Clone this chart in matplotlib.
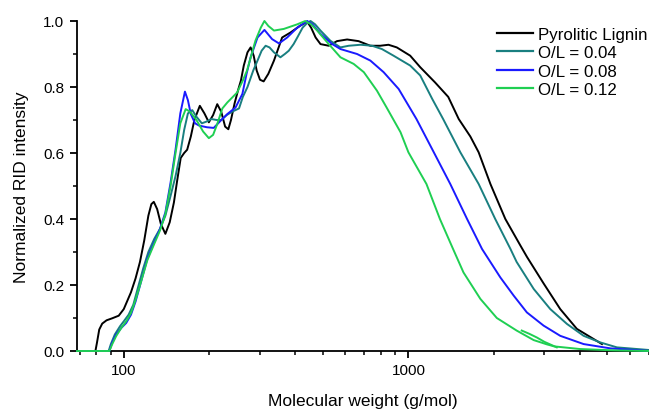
import matplotlib
matplotlib.use("Agg")
import matplotlib.pyplot as plt
from matplotlib.ticker import LogLocator, MultipleLocator, FixedLocator, NullFormatter

plt.rcParams['font.family'] = ['Liberation Sans', 'DejaVu Sans']

# ---- data ----
black_mw = [79.5, 80.5, 82, 84, 87, 91, 96, 100, 106, 110, 114, 118, 122, 125, 127.5, 131, 135, 140, 145, 150,
            154, 158.5, 163, 167, 172, 177, 185, 192, 199, 206, 213, 220, 227, 233, 238, 245, 252, 258, 264, 272,
            279, 286, 293, 301, 310, 322, 337, 350, 360, 385, 417, 441, 455, 472, 491, 525, 561, 609, 668, 735,
            796, 851, 910, 1014, 1100, 1240, 1380, 1502, 1650, 1765, 1941, 2190, 2472, 2609, 2983, 3414, 3906, 4785]
black_v = [0, 0.025, 0.065, 0.083, 0.093, 0.099, 0.107, 0.127, 0.178, 0.22, 0.27, 0.335, 0.41, 0.445, 0.452, 0.43, 0.385, 0.355, 0.39, 0.45,
           0.516, 0.585, 0.60, 0.61, 0.65, 0.70, 0.743, 0.72, 0.693, 0.715, 0.748, 0.725, 0.68, 0.672, 0.70, 0.75, 0.79, 0.82, 0.865, 0.905,
           0.92, 0.895, 0.85, 0.822, 0.817, 0.84, 0.88, 0.92, 0.95, 0.965, 0.986, 0.998, 0.98, 0.95, 0.93, 0.925, 0.939, 0.944, 0.939, 0.925,
           0.925, 0.928, 0.92, 0.895, 0.86, 0.814, 0.77, 0.703, 0.65, 0.602, 0.506, 0.40, 0.32, 0.285, 0.205, 0.127, 0.067, 0.021]

teal_mw = [68.5, 88.5, 90, 93, 97, 100, 104, 108, 112, 117, 122, 128, 134, 140, 146, 152, 158, 163, 168, 174,
           180, 188, 195, 203, 212, 220, 230, 240, 254, 262, 272, 285, 295, 305, 315, 325, 337, 355, 368, 380,
           395, 407, 425, 441, 453, 470, 491, 532, 577, 617, 679, 745, 807, 886, 1014, 1100, 1212, 1324, 1522, 1765,
           2018, 2280, 2399, 2755, 3150, 3605, 4125, 4720, 5400, 7000]
teal_v = [0, 0, 0.02, 0.05, 0.075, 0.09, 0.11, 0.14, 0.19, 0.25, 0.30, 0.34, 0.37, 0.41, 0.47, 0.53, 0.60, 0.67, 0.72, 0.73,
          0.71, 0.69, 0.695, 0.703, 0.70, 0.70, 0.715, 0.725, 0.735, 0.77, 0.80, 0.85, 0.88, 0.91, 0.925, 0.92, 0.905, 0.89, 0.90, 0.91,
          0.93, 0.95, 0.98, 0.994, 1.0, 0.99, 0.971, 0.94, 0.92, 0.925, 0.928, 0.925, 0.915, 0.895, 0.865, 0.835, 0.764, 0.703, 0.602, 0.506,
          0.40, 0.31, 0.27, 0.188, 0.127, 0.082, 0.046, 0.026, 0.011, 0.003]

blue_mw = [68.5, 89, 91, 94, 98, 102, 106, 110, 115, 121, 128, 134, 140, 146, 152, 158, 164, 168, 172, 178,
           184, 196, 207, 219, 231, 247, 261, 270, 279, 295, 312, 332, 351, 375, 407, 441, 460, 491, 540, 577,
           660, 735, 818, 924, 1067, 1228, 1403, 1607, 1814, 2103, 2342, 2606, 2983, 3414, 4125, 5118, 7000]
blue_v = [0, 0, 0.025, 0.05, 0.07, 0.085, 0.11, 0.15, 0.21, 0.28, 0.33, 0.37, 0.42, 0.51, 0.61, 0.72, 0.786, 0.76, 0.718, 0.69,
          0.683, 0.678, 0.676, 0.698, 0.718, 0.738, 0.779, 0.84, 0.89, 0.95, 0.973, 0.945, 0.932, 0.95, 0.98, 1.0, 0.99, 0.961, 0.93, 0.915,
          0.90, 0.88, 0.845, 0.794, 0.703, 0.602, 0.506, 0.40, 0.309, 0.223, 0.168, 0.117, 0.077, 0.046, 0.021, 0.008, 0.0]

green_mw = [68.5, 89, 91, 94, 98, 102, 106, 110, 115, 121, 128, 134, 140, 146, 152, 158, 165, 171, 180, 190,
            199, 206, 213, 222, 231, 250, 262, 271, 290, 303, 312, 322, 337, 365, 407, 434, 455, 478, 525, 577,
            642, 697, 775, 838, 938, 1000, 1157, 1290, 1435, 1561, 1789, 2044, 2399, 2755, 3068, 3250, 4000, 5236, 7000]
green_v = [0, 0, 0.02, 0.045, 0.07, 0.09, 0.115, 0.155, 0.21, 0.275, 0.325, 0.365, 0.415, 0.50, 0.60, 0.69, 0.733, 0.725, 0.70, 0.665,
           0.645, 0.655, 0.688, 0.735, 0.753, 0.783, 0.82, 0.85, 0.94, 0.98, 1.0, 0.985, 0.971, 0.976, 0.99, 1.0, 0.99, 0.971, 0.93, 0.89,
           0.87, 0.845, 0.789, 0.738, 0.663, 0.602, 0.506, 0.40, 0.309, 0.238, 0.158, 0.10, 0.062, 0.033, 0.02, 0.014, 0.006, 0.002, 0.0]

# short extra segment of the O/L = 0.12 trace seen in the reference
green_extra_mw = [2500, 2660, 2825, 3000, 3320]
green_extra_v = [0.062, 0.052, 0.041, 0.028, 0.011]

labels = ["Pyrolitic Lignin", "O/L = 0.04", "O/L = 0.08", "O/L = 0.12"]
colors = ["#000000", "#197f80", "#1a1aff", "#1fcf52"]

# ---- figure ----
W, H = 649, 410
fig = plt.figure(figsize=(W / 100, H / 100), dpi=100)
ax = fig.add_axes([77 / W, (H - 352) / H, (W - 77) / W, 330 / H])

series = [(black_mw, black_v), (teal_mw, teal_v), (blue_mw, blue_v), (green_mw, green_v)]
lw = 1.4
for (mw, v), lab, c in zip(series, labels, colors):
    assert len(mw) == len(v)
    ax.plot(mw, v, color=c, lw=lw, label=lab, clip_on=False, zorder=3)
ax.plot(green_extra_mw, green_extra_v, color=colors[3], lw=lw, clip_on=False, zorder=3)

ax.set_xscale('log')
ax.set_xlim(68.5, 7000)
ax.set_ylim(0, 1.0)

ax.xaxis.set_major_locator(FixedLocator([100, 1000]))
ax.xaxis.set_major_formatter(matplotlib.ticker.FuncFormatter(lambda x, p: f"{int(round(x))}"))
ax.xaxis.set_minor_locator(LogLocator(base=10, subs=range(2, 10), numticks=20))
ax.xaxis.set_minor_formatter(NullFormatter())
ax.yaxis.set_major_locator(MultipleLocator(0.2))
ax.yaxis.set_minor_locator(MultipleLocator(0.1))
ax.yaxis.set_major_formatter(matplotlib.ticker.FormatStrFormatter('%.1f'))

for s in ['top', 'right']:
    ax.spines[s].set_visible(False)
for s in ['left', 'bottom']:
    ax.spines[s].set_linewidth(1.3)

ax.tick_params(which='major', direction='out', length=5, width=1.3, labelsize=11, pad=4)
ax.tick_params(which='minor', direction='out', length=3, width=1.1)

ax.set_xlabel("Molecular weight (g/mol)", fontsize=12.5, labelpad=11)
ax.set_ylabel("Normalized RID intensity", fontsize=12.5, labelpad=10)

leg = ax.legend(loc='upper left', bbox_to_anchor=(497 / W, (H - 28) / H), bbox_transform=fig.transFigure,
                frameon=False, fontsize=12.2, handlelength=2.12, handletextpad=0.3,
                labelspacing=0.2, borderpad=0, borderaxespad=0)
for line in leg.get_lines():
    line.set_linewidth(1.6)

fig.savefig("out.png", dpi=100)
